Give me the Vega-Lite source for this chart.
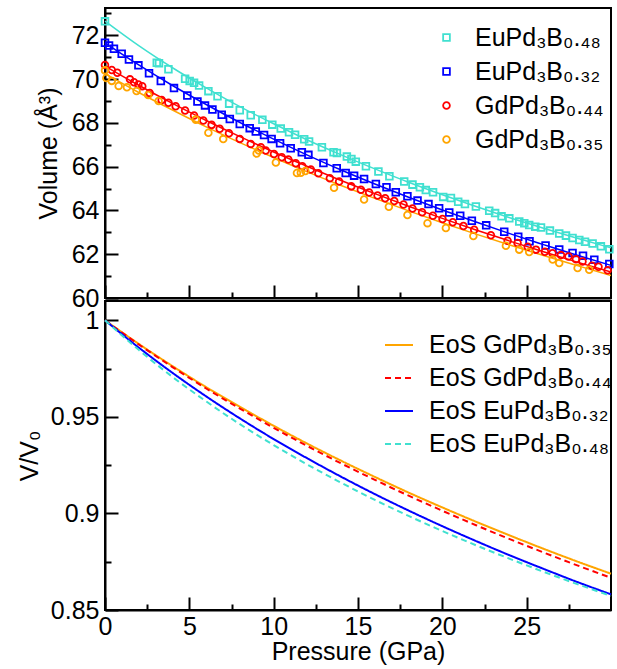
{
  "$schema": "https://vega.github.io/schema/vega-lite/v6.json",
  "padding": {"left": 16, "top": 0, "right": 4, "bottom": 0},
  "spacing": 3,
  "bounds": "flush",
  "config": {
    "font": "Liberation Sans",
    "view": {"stroke": "black", "strokeWidth": 2},
    "axis": {"domainColor": "black", "domainWidth": 2, "tickColor": "black", "tickWidth": 2, "labelFont": "Liberation Sans", "labelFontSize": 25, "labelColor": "black", "titleFont": "Liberation Sans", "titleFontSize": 25, "titleFontWeight": "normal", "titleColor": "black", "grid": false, "labelOverlap": false, "labelFlush": false},
    "legend": {"labelFont": "Liberation Sans", "labelFontSize": 25, "labelColor": "black", "labelLimit": 400}
  },
  "datasets": {
    "pts": [
      {"s": "EuPd₃B₀.₄₈", "P": 0, "V": 72.64}, {"s": "EuPd₃B₀.₄₈", "P": 3.07, "V": 70.75}, {"s": "EuPd₃B₀.₄₈", "P": 3.2, "V": 70.73}, {"s": "EuPd₃B₀.₄₈", "P": 3.76, "V": 70.45}, {"s": "EuPd₃B₀.₄₈", "P": 4.75, "V": 70.02}, {"s": "EuPd₃B₀.₄₈", "P": 5.02, "V": 69.92}, {"s": "EuPd₃B₀.₄₈", "P": 5.28, "V": 69.83}, {"s": "EuPd₃B₀.₄₈", "P": 5.58, "V": 69.71}, {"s": "EuPd₃B₀.₄₈", "P": 6.13, "V": 69.45}, {"s": "EuPd₃B₀.₄₈", "P": 6.67, "V": 69.22}, {"s": "EuPd₃B₀.₄₈", "P": 7.36, "V": 68.88}, {"s": "EuPd₃B₀.₄₈", "P": 7.99, "V": 68.58}, {"s": "EuPd₃B₀.₄₈", "P": 8.64, "V": 68.35}, {"s": "EuPd₃B₀.₄₈", "P": 9.33, "V": 68.14}, {"s": "EuPd₃B₀.₄₈", "P": 9.92, "V": 67.92}, {"s": "EuPd₃B₀.₄₈", "P": 10.42, "V": 67.74}, {"s": "EuPd₃B₀.₄₈", "P": 10.91, "V": 67.57}, {"s": "EuPd₃B₀.₄₈", "P": 11.27, "V": 67.46}, {"s": "EuPd₃B₀.₄₈", "P": 11.81, "V": 67.25}, {"s": "EuPd₃B₀.₄₈", "P": 12.1, "V": 67.15}, {"s": "EuPd₃B₀.₄₈", "P": 12.86, "V": 66.89}, {"s": "EuPd₃B₀.₄₈", "P": 13.55, "V": 66.66}, {"s": "EuPd₃B₀.₄₈", "P": 13.75, "V": 66.63}, {"s": "EuPd₃B₀.₄₈", "P": 14.34, "V": 66.46}, {"s": "EuPd₃B₀.₄₈", "P": 14.61, "V": 66.35}, {"s": "EuPd₃B₀.₄₈", "P": 14.87, "V": 66.23}, {"s": "EuPd₃B₀.₄₈", "P": 15.47, "V": 66.02}, {"s": "EuPd₃B₀.₄₈", "P": 16.21, "V": 65.78}, {"s": "EuPd₃B₀.₄₈", "P": 16.86, "V": 65.56}, {"s": "EuPd₃B₀.₄₈", "P": 17.74, "V": 65.32}, {"s": "EuPd₃B₀.₄₈", "P": 18.23, "V": 65.18}, {"s": "EuPd₃B₀.₄₈", "P": 18.67, "V": 65.06}, {"s": "EuPd₃B₀.₄₈", "P": 19.02, "V": 64.93}, {"s": "EuPd₃B₀.₄₈", "P": 19.45, "V": 64.83}, {"s": "EuPd₃B₀.₄₈", "P": 20.05, "V": 64.62}, {"s": "EuPd₃B₀.₄₈", "P": 20.51, "V": 64.57}, {"s": "EuPd₃B₀.₄₈", "P": 20.94, "V": 64.4}, {"s": "EuPd₃B₀.₄₈", "P": 21.34, "V": 64.29}, {"s": "EuPd₃B₀.₄₈", "P": 21.99, "V": 64.18}, {"s": "EuPd₃B₀.₄₈", "P": 22.78, "V": 63.99}, {"s": "EuPd₃B₀.₄₈", "P": 23.13, "V": 63.88}, {"s": "EuPd₃B₀.₄₈", "P": 23.51, "V": 63.73}, {"s": "EuPd₃B₀.₄₈", "P": 23.97, "V": 63.64}, {"s": "EuPd₃B₀.₄₈", "P": 24.56, "V": 63.49}, {"s": "EuPd₃B₀.₄₈", "P": 24.86, "V": 63.42}, {"s": "EuPd₃B₀.₄₈", "P": 25.15, "V": 63.33}, {"s": "EuPd₃B₀.₄₈", "P": 25.51, "V": 63.26}, {"s": "EuPd₃B₀.₄₈", "P": 25.85, "V": 63.22}, {"s": "EuPd₃B₀.₄₈", "P": 26.38, "V": 63.08}, {"s": "EuPd₃B₀.₄₈", "P": 26.93, "V": 62.95}, {"s": "EuPd₃B₀.₄₈", "P": 27.33, "V": 62.85}, {"s": "EuPd₃B₀.₄₈", "P": 27.72, "V": 62.74}, {"s": "EuPd₃B₀.₄₈", "P": 28.12, "V": 62.65}, {"s": "EuPd₃B₀.₄₈", "P": 28.46, "V": 62.57}, {"s": "EuPd₃B₀.₄₈", "P": 28.91, "V": 62.49}, {"s": "EuPd₃B₀.₄₈", "P": 29.4, "V": 62.36}, {"s": "EuPd₃B₀.₄₈", "P": 29.9, "V": 62.23},
      {"s": "EuPd₃B₀.₃₂", "P": 0, "V": 71.66}, {"s": "EuPd₃B₀.₃₂", "P": 0.24, "V": 71.54}, {"s": "EuPd₃B₀.₃₂", "P": 0.53, "V": 71.39}, {"s": "EuPd₃B₀.₃₂", "P": 0.99, "V": 71.16}, {"s": "EuPd₃B₀.₃₂", "P": 1.42, "V": 70.9}, {"s": "EuPd₃B₀.₃₂", "P": 1.98, "V": 70.63}, {"s": "EuPd₃B₀.₃₂", "P": 2.61, "V": 70.27}, {"s": "EuPd₃B₀.₃₂", "P": 3.31, "V": 69.91}, {"s": "EuPd₃B₀.₃₂", "P": 4.09, "V": 69.59}, {"s": "EuPd₃B₀.₃₂", "P": 4.88, "V": 69.25}, {"s": "EuPd₃B₀.₃₂", "P": 5.48, "V": 68.98}, {"s": "EuPd₃B₀.₃₂", "P": 5.93, "V": 68.8}, {"s": "EuPd₃B₀.₃₂", "P": 6.37, "V": 68.61}, {"s": "EuPd₃B₀.₃₂", "P": 6.92, "V": 68.37}, {"s": "EuPd₃B₀.₃₂", "P": 7.4, "V": 68.18}, {"s": "EuPd₃B₀.₃₂", "P": 7.99, "V": 67.95}, {"s": "EuPd₃B₀.₃₂", "P": 8.58, "V": 67.76}, {"s": "EuPd₃B₀.₃₂", "P": 8.94, "V": 67.61}, {"s": "EuPd₃B₀.₃₂", "P": 9.43, "V": 67.45}, {"s": "EuPd₃B₀.₃₂", "P": 9.88, "V": 67.27}, {"s": "EuPd₃B₀.₃₂", "P": 10.38, "V": 67.07}, {"s": "EuPd₃B₀.₃₂", "P": 11.01, "V": 66.84}, {"s": "EuPd₃B₀.₃₂", "P": 11.67, "V": 66.66}, {"s": "EuPd₃B₀.₃₂", "P": 12.06, "V": 66.54}, {"s": "EuPd₃B₀.₃₂", "P": 12.95, "V": 66.17}, {"s": "EuPd₃B₀.₃₂", "P": 13.74, "V": 65.93}, {"s": "EuPd₃B₀.₃₂", "P": 14.27, "V": 65.71}, {"s": "EuPd₃B₀.₃₂", "P": 14.77, "V": 65.59}, {"s": "EuPd₃B₀.₃₂", "P": 15.36, "V": 65.44}, {"s": "EuPd₃B₀.₃₂", "P": 16.06, "V": 65.21}, {"s": "EuPd₃B₀.₃₂", "P": 16.69, "V": 65.06}, {"s": "EuPd₃B₀.₃₂", "P": 17.24, "V": 64.83}, {"s": "EuPd₃B₀.₃₂", "P": 17.93, "V": 64.65}, {"s": "EuPd₃B₀.₃₂", "P": 18.53, "V": 64.45}, {"s": "EuPd₃B₀.₃₂", "P": 19.18, "V": 64.29}, {"s": "EuPd₃B₀.₃₂", "P": 19.81, "V": 64.1}, {"s": "EuPd₃B₀.₃₂", "P": 20.41, "V": 63.91}, {"s": "EuPd₃B₀.₃₂", "P": 21.06, "V": 63.76}, {"s": "EuPd₃B₀.₃₂", "P": 21.75, "V": 63.53}, {"s": "EuPd₃B₀.₃₂", "P": 22.6, "V": 63.32}, {"s": "EuPd₃B₀.₃₂", "P": 23.67, "V": 63.03}, {"s": "EuPd₃B₀.₃₂", "P": 24.5, "V": 62.8}, {"s": "EuPd₃B₀.₃₂", "P": 25.17, "V": 62.59}, {"s": "EuPd₃B₀.₃₂", "P": 26.12, "V": 62.4}, {"s": "EuPd₃B₀.₃₂", "P": 26.93, "V": 62.22}, {"s": "EuPd₃B₀.₃₂", "P": 27.72, "V": 62.06}, {"s": "EuPd₃B₀.₃₂", "P": 28.34, "V": 61.93}, {"s": "EuPd₃B₀.₃₂", "P": 29.01, "V": 61.75}, {"s": "EuPd₃B₀.₃₂", "P": 29.9, "V": 61.55},
      {"s": "GdPd₃B₀.₄₄", "P": 0, "V": 70.65}, {"s": "GdPd₃B₀.₄₄", "P": 0.4, "V": 70.42}, {"s": "GdPd₃B₀.₄₄", "P": 0.73, "V": 70.29}, {"s": "GdPd₃B₀.₄₄", "P": 1.48, "V": 69.99}, {"s": "GdPd₃B₀.₄₄", "P": 1.72, "V": 69.86}, {"s": "GdPd₃B₀.₄₄", "P": 1.98, "V": 69.76}, {"s": "GdPd₃B₀.₄₄", "P": 2.21, "V": 69.68}, {"s": "GdPd₃B₀.₄₄", "P": 2.65, "V": 69.37}, {"s": "GdPd₃B₀.₄₄", "P": 3.36, "V": 69.05}, {"s": "GdPd₃B₀.₄₄", "P": 3.76, "V": 68.92}, {"s": "GdPd₃B₀.₄₄", "P": 4.19, "V": 68.76}, {"s": "GdPd₃B₀.₄₄", "P": 4.75, "V": 68.57}, {"s": "GdPd₃B₀.₄₄", "P": 5.28, "V": 68.34}, {"s": "GdPd₃B₀.₄₄", "P": 5.83, "V": 68.11}, {"s": "GdPd₃B₀.₄₄", "P": 6.32, "V": 67.91}, {"s": "GdPd₃B₀.₄₄", "P": 6.8, "V": 67.73}, {"s": "GdPd₃B₀.₄₄", "P": 7.35, "V": 67.53}, {"s": "GdPd₃B₀.₄₄", "P": 7.99, "V": 67.27}, {"s": "GdPd₃B₀.₄₄", "P": 8.64, "V": 67.04}, {"s": "GdPd₃B₀.₄₄", "P": 9.24, "V": 66.89}, {"s": "GdPd₃B₀.₄₄", "P": 9.53, "V": 66.74}, {"s": "GdPd₃B₀.₄₄", "P": 10.02, "V": 66.58}, {"s": "GdPd₃B₀.₄₄", "P": 10.48, "V": 66.43}, {"s": "GdPd₃B₀.₄₄", "P": 10.87, "V": 66.33}, {"s": "GdPd₃B₀.₄₄", "P": 11.31, "V": 66.16}, {"s": "GdPd₃B₀.₄₄", "P": 11.7, "V": 66.02}, {"s": "GdPd₃B₀.₄₄", "P": 12.2, "V": 65.87}, {"s": "GdPd₃B₀.₄₄", "P": 12.65, "V": 65.7}, {"s": "GdPd₃B₀.₄₄", "P": 13.33, "V": 65.47}, {"s": "GdPd₃B₀.₄₄", "P": 13.88, "V": 65.32}, {"s": "GdPd₃B₀.₄₄", "P": 14.6, "V": 65.1}, {"s": "GdPd₃B₀.₄₄", "P": 15.17, "V": 64.95}, {"s": "GdPd₃B₀.₄₄", "P": 15.66, "V": 64.82}, {"s": "GdPd₃B₀.₄₄", "P": 16.16, "V": 64.68}, {"s": "GdPd₃B₀.₄₄", "P": 16.61, "V": 64.56}, {"s": "GdPd₃B₀.₄₄", "P": 17.15, "V": 64.43}, {"s": "GdPd₃B₀.₄₄", "P": 17.7, "V": 64.27}, {"s": "GdPd₃B₀.₄₄", "P": 18.23, "V": 64.09}, {"s": "GdPd₃B₀.₄₄", "P": 18.8, "V": 63.92}, {"s": "GdPd₃B₀.₄₄", "P": 19.44, "V": 63.76}, {"s": "GdPd₃B₀.₄₄", "P": 20.01, "V": 63.61}, {"s": "GdPd₃B₀.₄₄", "P": 20.62, "V": 63.46}, {"s": "GdPd₃B₀.₄₄", "P": 21.25, "V": 63.29}, {"s": "GdPd₃B₀.₄₄", "P": 21.89, "V": 63.12}, {"s": "GdPd₃B₀.₄₄", "P": 22.88, "V": 62.87}, {"s": "GdPd₃B₀.₄₄", "P": 23.87, "V": 62.62}, {"s": "GdPd₃B₀.₄₄", "P": 24.46, "V": 62.51}, {"s": "GdPd₃B₀.₄₄", "P": 25.06, "V": 62.34}, {"s": "GdPd₃B₀.₄₄", "P": 25.55, "V": 62.21}, {"s": "GdPd₃B₀.₄₄", "P": 26.08, "V": 62.11}, {"s": "GdPd₃B₀.₄₄", "P": 26.53, "V": 62.05}, {"s": "GdPd₃B₀.₄₄", "P": 27.03, "V": 61.96}, {"s": "GdPd₃B₀.₄₄", "P": 27.48, "V": 61.9}, {"s": "GdPd₃B₀.₄₄", "P": 27.92, "V": 61.77}, {"s": "GdPd₃B₀.₄₄", "P": 28.31, "V": 61.67}, {"s": "GdPd₃B₀.₄₄", "P": 28.87, "V": 61.47}, {"s": "GdPd₃B₀.₄₄", "P": 29.26, "V": 61.43}, {"s": "GdPd₃B₀.₄₄", "P": 29.8, "V": 61.27},
      {"s": "GdPd₃B₀.₃₅", "P": 0, "V": 70.4}, {"s": "GdPd₃B₀.₃₅", "P": 0.08, "V": 70.05}, {"s": "GdPd₃B₀.₃₅", "P": 0.4, "V": 69.92}, {"s": "GdPd₃B₀.₃₅", "P": 0.81, "V": 69.69}, {"s": "GdPd₃B₀.₃₅", "P": 1.3, "V": 69.63}, {"s": "GdPd₃B₀.₃₅", "P": 1.87, "V": 69.46}, {"s": "GdPd₃B₀.₃₅", "P": 2.56, "V": 69.28}, {"s": "GdPd₃B₀.₃₅", "P": 3.18, "V": 69.0}, {"s": "GdPd₃B₀.₃₅", "P": 5.38, "V": 68.15}, {"s": "GdPd₃B₀.₃₅", "P": 6.13, "V": 67.55}, {"s": "GdPd₃B₀.₃₅", "P": 7.01, "V": 67.26}, {"s": "GdPd₃B₀.₃₅", "P": 8.99, "V": 66.6}, {"s": "GdPd₃B₀.₃₅", "P": 9.12, "V": 66.74}, {"s": "GdPd₃B₀.₃₅", "P": 10.13, "V": 66.19}, {"s": "GdPd₃B₀.₃₅", "P": 11.38, "V": 65.71}, {"s": "GdPd₃B₀.₃₅", "P": 11.61, "V": 65.72}, {"s": "GdPd₃B₀.₃₅", "P": 11.88, "V": 65.8}, {"s": "GdPd₃B₀.₃₅", "P": 13.58, "V": 65.04}, {"s": "GdPd₃B₀.₃₅", "P": 15.36, "V": 64.5}, {"s": "GdPd₃B₀.₃₅", "P": 16.83, "V": 64.17}, {"s": "GdPd₃B₀.₃₅", "P": 17.93, "V": 63.79}, {"s": "GdPd₃B₀.₃₅", "P": 19.12, "V": 63.42}, {"s": "GdPd₃B₀.₃₅", "P": 20.21, "V": 63.2}, {"s": "GdPd₃B₀.₃₅", "P": 21.84, "V": 62.83}, {"s": "GdPd₃B₀.₃₅", "P": 23.77, "V": 62.39}, {"s": "GdPd₃B₀.₃₅", "P": 24.56, "V": 62.21}, {"s": "GdPd₃B₀.₃₅", "P": 25.15, "V": 62.1}, {"s": "GdPd₃B₀.₃₅", "P": 26.54, "V": 61.76}, {"s": "GdPd₃B₀.₃₅", "P": 26.93, "V": 61.6}, {"s": "GdPd₃B₀.₃₅", "P": 28.02, "V": 61.37}, {"s": "GdPd₃B₀.₃₅", "P": 28.71, "V": 61.29}
    ],
    "fit": [
      {"s": "GdPd₃B₀.₃₅", "P": 0, "V": 70.25, "r": 1}, {"s": "GdPd₃B₀.₃₅", "P": 2, "V": 69.39, "r": 0.9878}, {"s": "GdPd₃B₀.₃₅", "P": 4, "V": 68.59, "r": 0.9763}, {"s": "GdPd₃B₀.₃₅", "P": 6, "V": 67.82, "r": 0.9654}, {"s": "GdPd₃B₀.₃₅", "P": 8, "V": 67.1, "r": 0.9552}, {"s": "GdPd₃B₀.₃₅", "P": 10, "V": 66.42, "r": 0.9454}, {"s": "GdPd₃B₀.₃₅", "P": 12, "V": 65.76, "r": 0.9361}, {"s": "GdPd₃B₀.₃₅", "P": 14, "V": 65.14, "r": 0.9273}, {"s": "GdPd₃B₀.₃₅", "P": 16, "V": 64.55, "r": 0.9189}, {"s": "GdPd₃B₀.₃₅", "P": 18, "V": 63.98, "r": 0.9108}, {"s": "GdPd₃B₀.₃₅", "P": 20, "V": 63.44, "r": 0.9031}, {"s": "GdPd₃B₀.₃₅", "P": 22, "V": 62.92, "r": 0.8957}, {"s": "GdPd₃B₀.₃₅", "P": 24, "V": 62.42, "r": 0.8886}, {"s": "GdPd₃B₀.₃₅", "P": 26, "V": 61.94, "r": 0.8817}, {"s": "GdPd₃B₀.₃₅", "P": 28, "V": 61.48, "r": 0.8751}, {"s": "GdPd₃B₀.₃₅", "P": 30, "V": 61.03, "r": 0.8688},
      {"s": "GdPd₃B₀.₄₄", "P": 0, "V": 70.6, "r": 1}, {"s": "GdPd₃B₀.₄₄", "P": 2, "V": 69.72, "r": 0.9875}, {"s": "GdPd₃B₀.₄₄", "P": 4, "V": 68.89, "r": 0.9758}, {"s": "GdPd₃B₀.₄₄", "P": 6, "V": 68.11, "r": 0.9647}, {"s": "GdPd₃B₀.₄₄", "P": 8, "V": 67.37, "r": 0.9543}, {"s": "GdPd₃B₀.₄₄", "P": 10, "V": 66.67, "r": 0.9443}, {"s": "GdPd₃B₀.₄₄", "P": 12, "V": 66.01, "r": 0.9349}, {"s": "GdPd₃B₀.₄₄", "P": 14, "V": 65.37, "r": 0.9259}, {"s": "GdPd₃B₀.₄₄", "P": 16, "V": 64.77, "r": 0.9174}, {"s": "GdPd₃B₀.₄₄", "P": 18, "V": 64.19, "r": 0.9092}, {"s": "GdPd₃B₀.₄₄", "P": 20, "V": 63.64, "r": 0.9014}, {"s": "GdPd₃B₀.₄₄", "P": 22, "V": 63.11, "r": 0.8939}, {"s": "GdPd₃B₀.₄₄", "P": 24, "V": 62.6, "r": 0.8867}, {"s": "GdPd₃B₀.₄₄", "P": 26, "V": 62.11, "r": 0.8798}, {"s": "GdPd₃B₀.₄₄", "P": 28, "V": 61.64, "r": 0.8731}, {"s": "GdPd₃B₀.₄₄", "P": 30, "V": 61.19, "r": 0.8667},
      {"s": "EuPd₃B₀.₃₂", "P": 0, "V": 71.66, "r": 1}, {"s": "EuPd₃B₀.₃₂", "P": 2, "V": 70.65, "r": 0.9859}, {"s": "EuPd₃B₀.₃₂", "P": 4, "V": 69.71, "r": 0.9728}, {"s": "EuPd₃B₀.₃₂", "P": 6, "V": 68.84, "r": 0.9606}, {"s": "EuPd₃B₀.₃₂", "P": 8, "V": 68.02, "r": 0.9492}, {"s": "EuPd₃B₀.₃₂", "P": 10, "V": 67.26, "r": 0.9385}, {"s": "EuPd₃B₀.₃₂", "P": 12, "V": 66.53, "r": 0.9285}, {"s": "EuPd₃B₀.₃₂", "P": 14, "V": 65.85, "r": 0.919}, {"s": "EuPd₃B₀.₃₂", "P": 16, "V": 65.21, "r": 0.91}, {"s": "EuPd₃B₀.₃₂", "P": 18, "V": 64.6, "r": 0.9015}, {"s": "EuPd₃B₀.₃₂", "P": 20, "V": 64.02, "r": 0.8934}, {"s": "EuPd₃B₀.₃₂", "P": 22, "V": 63.47, "r": 0.8857}, {"s": "EuPd₃B₀.₃₂", "P": 24, "V": 62.94, "r": 0.8783}, {"s": "EuPd₃B₀.₃₂", "P": 26, "V": 62.44, "r": 0.8713}, {"s": "EuPd₃B₀.₃₂", "P": 28, "V": 61.95, "r": 0.8645}, {"s": "EuPd₃B₀.₃₂", "P": 30, "V": 61.49, "r": 0.8581},
      {"s": "EuPd₃B₀.₄₈", "P": 0, "V": 72.65, "r": 1}, {"s": "EuPd₃B₀.₄₈", "P": 2, "V": 71.53, "r": 0.9847}, {"s": "EuPd₃B₀.₄₈", "P": 4, "V": 70.52, "r": 0.9707}, {"s": "EuPd₃B₀.₄₈", "P": 6, "V": 69.6, "r": 0.958}, {"s": "EuPd₃B₀.₄₈", "P": 8, "V": 68.74, "r": 0.9462}, {"s": "EuPd₃B₀.₄₈", "P": 10, "V": 67.96, "r": 0.9354}, {"s": "EuPd₃B₀.₄₈", "P": 12, "V": 67.22, "r": 0.9253}, {"s": "EuPd₃B₀.₄₈", "P": 14, "V": 66.54, "r": 0.9159}, {"s": "EuPd₃B₀.₄₈", "P": 16, "V": 65.9, "r": 0.907}, {"s": "EuPd₃B₀.₄₈", "P": 18, "V": 65.29, "r": 0.8987}, {"s": "EuPd₃B₀.₄₈", "P": 20, "V": 64.72, "r": 0.8909}, {"s": "EuPd₃B₀.₄₈", "P": 22, "V": 64.18, "r": 0.8835}, {"s": "EuPd₃B₀.₄₈", "P": 24, "V": 63.67, "r": 0.8765}, {"s": "EuPd₃B₀.₄₈", "P": 26, "V": 63.19, "r": 0.8698}, {"s": "EuPd₃B₀.₄₈", "P": 28, "V": 62.73, "r": 0.8634}, {"s": "EuPd₃B₀.₄₈", "P": 30, "V": 62.29, "r": 0.8573}
    ]
  },
  "vconcat": [
    {
      "width": 506,
      "height": 290,
      "encoding": {
        "x": {"field": "P", "type": "quantitative", "scale": {"domain": [0, 30], "nice": false},
              "axis": {"title": null, "labels": false, "values": [0, 2.5, 5, 7.5, 10, 12.5, 15, 17.5, 20, 22.5, 25, 27.5],
                       "tickSize": {"condition": {"test": "datum.value % 5 === 0", "value": -13}, "value": -6}}},
        "y": {"field": "V", "type": "quantitative", "scale": {"domain": [60, 73.25], "nice": false, "zero": false},
              "axis": {"title": "Volume (Å³)", "values": [60, 61, 62, 63, 64, 65, 66, 67, 68, 69, 70, 71, 72, 73], "format": "d",
                       "labelExpr": "datum.value % 2 === 0 ? datum.label : ''",
                       "tickSize": {"condition": {"test": "datum.value % 2 === 0", "value": -13}, "value": -6},
                       "labelPadding": 19, "titlePadding": 10}}
      },
      "layer": [
        {"data": {"name": "fit"}, "transform": [{"filter": "datum.s === 'EuPd₃B₀.₄₈'"}],
         "mark": {"type": "line", "strokeWidth": 1.5, "interpolate": "monotone", "color": "#40E0D0"}, "encoding": {}},
        {"data": {"name": "fit"}, "transform": [{"filter": "datum.s === 'EuPd₃B₀.₃₂'"}],
         "mark": {"type": "line", "strokeWidth": 1.5, "interpolate": "monotone", "color": "#0000FF"}, "encoding": {}},
        {"data": {"name": "fit"}, "transform": [{"filter": "datum.s === 'GdPd₃B₀.₄₄'"}],
         "mark": {"type": "line", "strokeWidth": 1.5, "interpolate": "monotone", "color": "#FF0000"}, "encoding": {}},
        {"data": {"name": "fit"}, "transform": [{"filter": "datum.s === 'GdPd₃B₀.₃₅'"}],
         "mark": {"type": "line", "strokeWidth": 1.5, "interpolate": "monotone", "color": "#FFA500"}, "encoding": {}},
        {
          "data": {"name": "pts"},
          "mark": {"type": "point", "filled": false, "size": 45, "strokeWidth": 1.8, "opacity": 1},
          "encoding": {
            "color": {"field": "s", "type": "nominal",
                      "scale": {"domain": ["EuPd₃B₀.₄₈", "EuPd₃B₀.₃₂", "GdPd₃B₀.₄₄", "GdPd₃B₀.₃₅"], "range": ["#40E0D0", "#0000FF", "#FF0000", "#FFA500"]},
                      "legend": {"title": null, "orient": "none", "legendX": 329, "legendY": 17, "labelOffset": 16, "rowPadding": 8, "symbolStrokeWidth": 1.8, "symbolSize": 45}},
            "shape": {"field": "s", "type": "nominal",
                      "scale": {"domain": ["EuPd₃B₀.₄₈", "EuPd₃B₀.₃₂", "GdPd₃B₀.₄₄", "GdPd₃B₀.₃₅"], "range": ["square", "square", "circle", "circle"]},
                      "legend": {"title": null, "orient": "none", "legendX": 329, "legendY": 17, "labelOffset": 16, "rowPadding": 8, "symbolStrokeWidth": 1.8, "symbolSize": 45}}
          }
        }
      ]
    },
    {
      "width": 506,
      "height": 309,
      "data": {"name": "fit"},
      "mark": {"type": "line", "strokeWidth": 2, "interpolate": "monotone"},
      "encoding": {
        "x": {"field": "P", "type": "quantitative", "scale": {"domain": [0, 30], "nice": false},
              "axis": {"title": "Pressure (GPa)", "values": [0, 2.5, 5, 7.5, 10, 12.5, 15, 17.5, 20, 22.5, 25, 27.5], "format": "d",
                       "labelExpr": "datum.value % 5 === 0 ? datum.label : ''",
                       "tickSize": {"condition": {"test": "datum.value % 5 === 0", "value": -13}, "value": -6},
                       "labelPadding": 17, "titlePadding": -7}},
        "y": {"field": "r", "type": "quantitative", "scale": {"domain": [0.85, 1.01], "nice": false, "zero": false},
              "axis": {"title": "V/V₀", "values": [0.85, 0.875, 0.9, 0.925, 0.95, 0.975, 1], "format": "~g",
                       "labelExpr": "round(datum.value * 1000) % 50 === 0 ? datum.label : ''",
                       "tickSize": {"condition": {"test": "round(datum.value * 1000) % 50 === 0", "value": -13}, "value": -6},
                       "labelPadding": 19, "titlePadding": 8}},
        "color": {"field": "s", "type": "nominal",
                  "scale": {"domain": ["GdPd₃B₀.₃₅", "GdPd₃B₀.₄₄", "EuPd₃B₀.₃₂", "EuPd₃B₀.₄₈"], "range": ["#FFA500", "#FF0000", "#0000FF", "#40E0D0"]},
                  "legend": {"title": null, "orient": "none", "legendX": 279, "legendY": 29, "labelOffset": 15, "rowPadding": 5, "symbolType": "stroke", "symbolSize": 784, "symbolStrokeWidth": 2, "labelExpr": "'EoS ' + datum.label"}},
        "strokeDash": {"field": "s", "type": "nominal",
                       "scale": {"domain": ["GdPd₃B₀.₃₅", "GdPd₃B₀.₄₄", "EuPd₃B₀.₃₂", "EuPd₃B₀.₄₈"], "range": [[1, 0], [6, 4], [1, 0], [6, 4]]},
                       "legend": {"title": null, "orient": "none", "legendX": 279, "legendY": 29, "labelOffset": 15, "rowPadding": 5, "symbolType": "stroke", "symbolSize": 784, "symbolStrokeWidth": 2, "labelExpr": "'EoS ' + datum.label"}}
      }
    }
  ],
  "resolve": {"scale": {"color": "independent", "shape": "independent", "strokeDash": "independent", "x": "independent", "y": "independent"}, "legend": {"color": "independent", "shape": "independent", "strokeDash": "independent"}}
}
